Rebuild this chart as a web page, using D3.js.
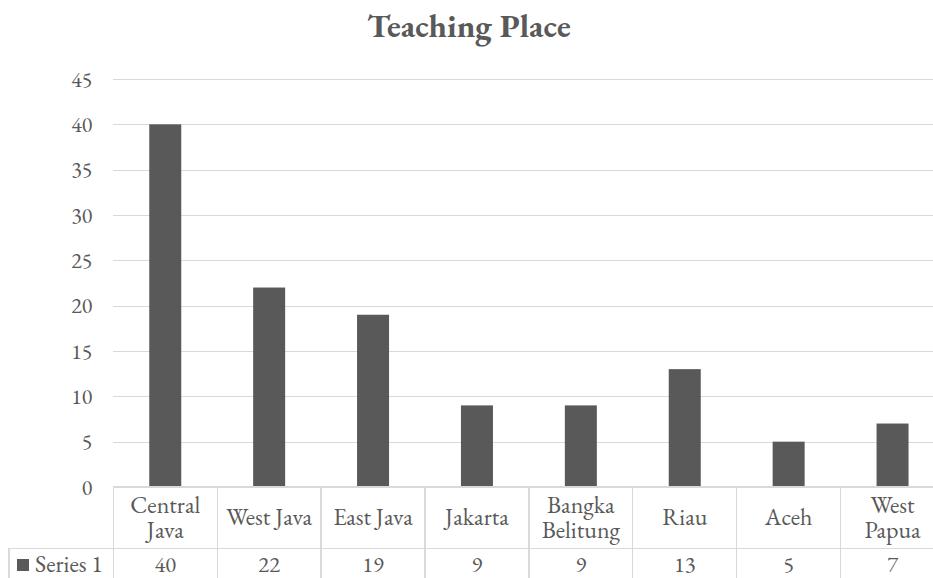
<!DOCTYPE html>
<html>
<head>
<meta charset="utf-8">
<script src="https://cdn.jsdelivr.net/npm/d3@7/dist/d3.min.js"></script>
<style>
  html, body { margin: 0; padding: 0; background: #fff; overflow: hidden; }
  svg { display: block; }
</style>
</head>
<body>
<svg id="chart" width="933" height="578"></svg>
<script>
const title = "Teaching Place";
const seriesName = "Series 1";
const categories = ["Central Java", "West Java", "East Java", "Jakarta", "Bangka Belitung", "Riau", "Aceh", "West Papua"];
const categoryLines = [["Central", "Java"], ["West Java"], ["East Java"], ["Jakarta"], ["Bangka", "Belitung"], ["Riau"], ["Aceh"], ["West", "Papua"]];
const values = [40, 22, 19, 9, 9, 13, 5, 7];
const yTicks = [0, 5, 10, 15, 20, 25, 30, 35, 40, 45];

const FONT = '"EB Garamond", "Liberation Serif", serif';
const TEXT_COLOR = "#595959";
const svg = d3.select("#chart");
const plotLeft = 113.3, plotRight = 944.5, plotTop = 79, plotBottom = 487;
const row1Bottom = 548.3, row2Bottom = 582, tableLeft = 9;
const gridColor = "#d9d9d9";
const barColor = "#595959";
const tickSize = 22, labelSize = 24, valueSize = 22.5;

const x = d3.scaleBand().domain(categories).range([plotLeft, plotRight]).paddingInner(0).paddingOuter(0);
const y = d3.scaleLinear().domain([0, 45]).range([plotBottom, plotTop]);
const barWidth = 32;

function styleText(sel, size, weight) {
  return sel.style("font-family", FONT).style("font-size", size + "px")
    .style("font-weight", weight || "normal").style("fill", TEXT_COLOR);
}

// Title
styleText(svg.append("text")
  .attr("x", 469).attr("y", 37)
  .attr("text-anchor", "middle"), 33, "bold")
  .text(title);

// Y axis with gridlines
const yAxis = d3.axisLeft(y).tickValues(yTicks).tickSize(-(plotRight - plotLeft)).tickPadding(21).tickFormat(d3.format("d"));
const gy = svg.append("g").attr("transform", `translate(${plotLeft},0)`).call(yAxis);
gy.select(".domain").remove();
gy.selectAll(".tick line").attr("stroke", gridColor).attr("stroke-width", 1.3).attr("shape-rendering", "crispEdges");
styleText(gy.selectAll(".tick text"), tickSize);

// Bars
svg.append("g").selectAll("rect").data(values).join("rect")
  .attr("x", (d, i) => x(categories[i]) + x.bandwidth() / 2 - barWidth / 2)
  .attr("width", barWidth)
  .attr("y", d => y(d))
  .attr("height", d => y(0) - y(d))
  .attr("fill", barColor);

// Data table
const tg = svg.append("g").attr("stroke", gridColor).attr("stroke-width", 1.3).attr("shape-rendering", "crispEdges");
tg.append("line").attr("x1", plotLeft).attr("x2", plotRight).attr("y1", plotBottom).attr("y2", plotBottom);
tg.append("line").attr("x1", tableLeft).attr("x2", plotRight).attr("y1", row1Bottom).attr("y2", row1Bottom);
tg.append("line").attr("x1", tableLeft).attr("x2", tableLeft).attr("y1", row1Bottom).attr("y2", row2Bottom);
const bounds = categories.map(c => x(c)).concat([plotRight]);
tg.selectAll("line.col").data(bounds).join("line").attr("class", "col")
  .attr("x1", d => d).attr("x2", d => d).attr("y1", plotBottom).attr("y2", row2Bottom);

// category labels (one text per line)
const rowMid = (plotBottom + row1Bottom) / 2;
const lineH = 25;
const lg = svg.append("g");
categories.forEach((c, i) => {
  const lines = categoryLines[i];
  const cx = x(c) + x.bandwidth() / 2;
  lines.forEach((ln, j) => {
    const base = rowMid + 7.5 + (j - (lines.length - 1) / 2) * lineH;
    styleText(lg.append("text").attr("text-anchor", "middle").attr("x", cx).attr("y", base), labelSize).text(ln);
  });
});

// values row
styleText(svg.append("g").selectAll("text").data(values).join("text")
  .attr("x", (d, i) => x(categories[i]) + x.bandwidth() / 2)
  .attr("y", 572)
  .attr("text-anchor", "middle"), valueSize)
  .text(d => d);

// legend key
svg.append("rect").attr("x", 17).attr("y", 559).attr("width", 12).attr("height", 12).attr("fill", barColor);
styleText(svg.append("text").attr("x", 35).attr("y", 572), labelSize).text(seriesName);
</script>
</body>
</html>
